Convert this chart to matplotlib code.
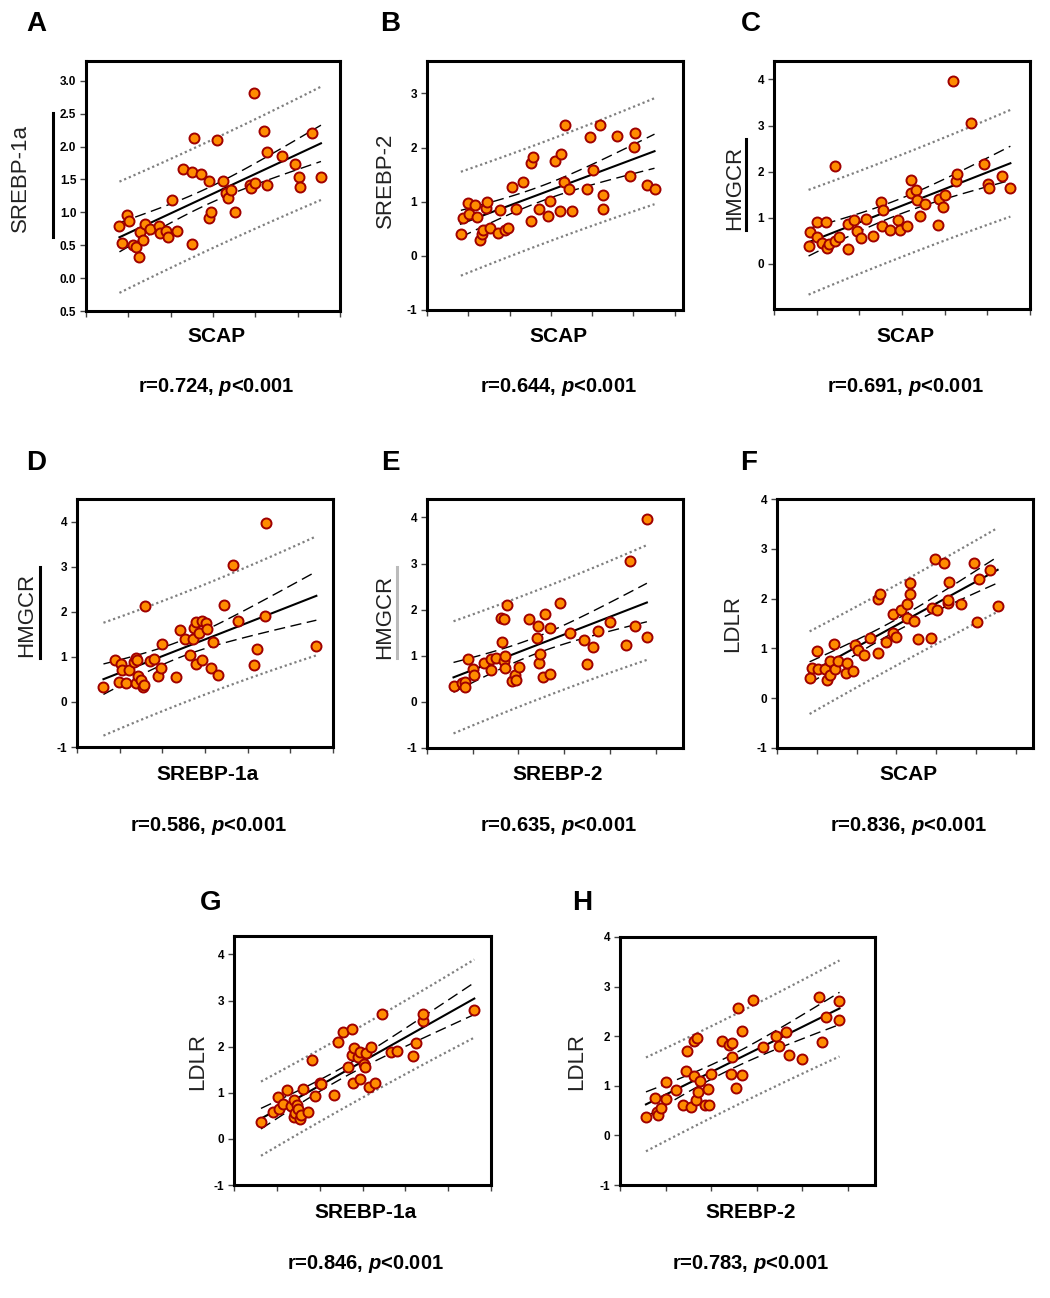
import numpy as np
import matplotlib
matplotlib.use("Agg")
import matplotlib.pyplot as plt
from matplotlib.lines import Line2D

plt.rcParams['font.family'] = ['Liberation Sans', 'DejaVu Sans']
plt.rcParams['mathtext.fontset'] = 'custom'
plt.rcParams['mathtext.rm'] = 'Liberation Sans:bold'
plt.rcParams['mathtext.it'] = 'Liberation Sans:italic:bold'
plt.rcParams['mathtext.bf'] = 'Liberation Sans:bold'

#___Data___#
panel_ids = ['A', 'B', 'C', 'D', 'E', 'F', 'G', 'H']
x_names = ['SCAP', 'SCAP', 'SCAP', 'SREBP-1a', 'SREBP-2', 'SCAP', 'SREBP-1a', 'SREBP-2']
y_names = ['SREBP-1a', 'SREBP-2', 'HMGCR', 'HMGCR', 'HMGCR', 'LDLR', 'LDLR', 'LDLR']
r_values = ['0.724', '0.644', '0.691', '0.586', '0.635', '0.836', '0.846', '0.783']
p_text = '<0.001'

A_x = [0.79, 0.84, 0.98, 1.01, 1.12, 1.18, 1.26, 1.28, 1.34, 1.40, 1.50, 1.72, 1.74, 1.88, 1.94,
       2.03, 2.16, 2.30, 2.50, 2.51, 2.56, 2.71, 2.91, 2.91, 2.96, 3.09, 3.24, 3.31, 3.35, 3.42,
       3.53, 3.87, 3.89, 4.00, 3.97, 4.20, 4.27, 4.27, 4.62, 4.93, 5.03, 5.06, 5.35, 5.55]
A_y = [0.79, 0.54, 0.96, 0.87, 0.51, 0.47, 0.32, 0.70, 0.58, 0.82, 0.74, 0.79, 0.69, 0.71, 0.62,
       1.18, 0.71, 1.66, 0.52, 1.61, 2.13, 1.59, 1.48, 0.92, 1.00, 2.10, 1.48, 1.29, 1.22, 1.34,
       1.01, 1.41, 1.37, 1.45, 2.82, 2.23, 1.91, 1.42, 1.85, 1.74, 1.54, 1.39, 2.21, 1.54]

B_x = [0.82, 0.86, 1.00, 1.02, 1.16, 1.20, 1.28, 1.33, 1.35, 1.43, 1.45, 1.53, 1.73, 1.76, 1.89,
       1.95, 2.05, 2.16, 2.32, 2.52, 2.56, 2.52, 2.71, 2.93, 2.97, 3.10, 3.24, 3.23, 3.34, 3.33,
       3.43, 3.52, 3.87, 3.94, 4.02, 4.19, 4.27, 4.26, 4.60, 4.92, 5.01, 5.04, 5.33, 5.51]
B_y = [0.41, 0.70, 0.97, 0.78, 0.94, 0.71, 0.30, 0.41, 0.47, 0.88, 0.99, 0.52, 0.43, 0.84, 0.47,
       0.51, 1.28, 0.86, 1.36, 1.72, 1.83, 0.64, 0.87, 0.74, 1.01, 1.76, 1.88, 0.82, 2.42, 1.36,
       1.24, 0.82, 1.23, 2.20, 1.58, 2.42, 1.13, 0.86, 2.22, 1.47, 2.01, 2.27, 1.30, 1.23]

C_x = [0.81, 0.85, 1.00, 1.00, 1.13, 1.21, 1.25, 1.30, 1.42, 1.44, 1.52, 1.73, 1.73, 1.88, 1.95,
       2.04, 2.16, 2.31, 2.51, 2.55, 2.52, 2.71, 2.91, 2.96, 3.11, 3.22, 3.22, 3.33, 3.34, 3.42,
       3.53, 3.85, 3.87, 3.95, 4.01, 4.19, 4.27, 4.30, 4.62, 4.93, 5.02, 5.05, 5.35, 5.54]
C_y = [0.38, 0.69, 0.91, 0.59, 0.45, 0.91, 0.35, 0.43, 2.12, 0.49, 0.58, 0.33, 0.87, 0.95, 0.71,
       0.56, 0.98, 0.60, 1.34, 1.17, 0.83, 0.74, 0.95, 0.74, 0.82, 1.81, 1.54, 1.61, 1.39, 1.03,
       1.29, 0.84, 1.41, 1.24, 1.50, 3.96, 1.79, 1.94, 3.05, 2.16, 1.73, 1.64, 1.91, 1.64]

D_x = [0.62, 0.90, 0.99, 1.02, 1.06, 1.14, 1.22, 1.34, 1.38, 1.40, 1.38, 1.44, 1.51, 1.55, 1.57,
       1.60, 1.71, 1.81, 1.89, 1.98, 2.00, 2.32, 2.41, 2.52, 2.65, 2.74, 2.73, 2.79, 2.79, 2.87,
       2.92, 2.94, 3.03, 3.05, 3.15, 3.19, 3.30, 3.45, 3.66, 3.78, 4.16, 4.23, 4.40, 4.42, 5.61]
D_y = [0.34, 0.92, 0.45, 0.83, 0.71, 0.41, 0.71, 0.88, 0.98, 0.94, 0.41, 0.58, 0.48, 0.34, 0.37,
       2.12, 0.90, 0.96, 0.58, 0.75, 1.29, 0.56, 1.60, 1.40, 1.03, 1.64, 1.40, 1.78, 0.83, 1.53,
       1.79, 0.94, 1.74, 1.62, 0.75, 1.33, 0.60, 2.15, 3.04, 1.79, 0.82, 1.18, 1.90, 3.96, 1.24]

E_x = [0.58, 0.76, 0.83, 0.84, 0.89, 1.00, 1.02, 1.24, 1.40, 1.41, 1.50, 1.61, 1.64, 1.69, 1.68,
       1.71, 1.71, 1.76, 1.85, 1.93, 1.95, 2.01, 2.23, 2.40, 2.42, 2.44, 2.47, 2.53, 2.58, 2.69,
       2.69, 2.91, 3.13, 3.43, 3.50, 3.63, 3.73, 4.01, 4.36, 4.43, 4.54, 4.81, 4.81]
E_y = [0.35, 0.40, 0.43, 0.33, 0.94, 0.72, 0.59, 0.84, 0.69, 0.92, 0.95, 1.81, 1.29, 1.79, 0.88,
       1.00, 0.74, 2.11, 0.46, 0.59, 0.48, 0.75, 1.80, 1.39, 1.65, 0.84, 1.03, 0.55, 1.91, 1.60,
       0.60, 2.15, 1.49, 1.34, 0.82, 1.18, 1.54, 1.73, 1.24, 3.05, 1.64, 3.96, 1.40]

F_x = [0.82, 0.87, 1.01, 1.04, 1.21, 1.27, 1.33, 1.34, 1.43, 1.45, 1.54, 1.73, 1.77, 1.91, 1.96,
       2.04, 2.18, 2.33, 2.53, 2.54, 2.59, 2.73, 2.92, 2.93, 2.99, 3.12, 3.26, 3.26, 3.34, 3.35,
       3.44, 3.54, 3.87, 3.89, 3.98, 4.03, 4.20, 4.29, 4.30, 4.32, 4.64, 4.95, 5.03, 5.07, 5.35, 5.55]
F_y = [0.41, 0.61, 0.94, 0.58, 0.59, 0.37, 0.47, 0.75, 1.09, 0.59, 0.74, 0.51, 0.70, 0.55, 1.06,
       0.96, 0.86, 1.21, 0.91, 2.00, 2.09, 1.12, 1.31, 1.70, 1.22, 1.78, 1.90, 1.61, 2.10, 2.31,
       1.56, 1.19, 1.21, 1.82, 2.79, 1.78, 2.71, 1.91, 1.98, 2.33, 1.89, 2.71, 1.54, 2.39, 2.57, 1.85]

G_x = [0.63, 0.92, 1.03, 1.06, 1.15, 1.23, 1.33, 1.39, 1.40, 1.42, 1.46, 1.50, 1.54, 1.57, 1.62,
       1.72, 1.83, 1.90, 2.00, 2.02, 2.33, 2.42, 2.55, 2.66, 2.75, 2.76, 2.78, 2.80, 2.90, 2.94,
       2.95, 3.03, 3.05, 3.09, 3.16, 3.21, 3.30, 3.45, 3.66, 3.80, 4.17, 4.24, 4.41, 4.42, 5.61]
G_y = [0.37, 0.59, 0.90, 0.64, 0.76, 1.05, 0.71, 0.85, 0.47, 0.56, 0.74, 0.64, 0.43, 0.51, 1.09,
       0.59, 1.71, 0.92, 1.21, 1.18, 0.95, 2.11, 2.32, 1.56, 1.81, 2.39, 1.22, 1.97, 1.78, 1.89,
       1.30, 1.63, 1.55, 1.86, 1.12, 2.00, 1.21, 2.71, 1.89, 1.91, 1.79, 2.08, 2.56, 2.71, 2.80]

H_x = [0.57, 0.77, 0.81, 0.84, 0.90, 1.00, 1.02, 1.24, 1.39, 1.45, 1.47, 1.55, 1.62, 1.70, 1.63,
       1.67, 1.71, 1.76, 1.86, 1.93, 1.95, 2.00, 2.23, 2.40, 2.45, 2.47, 2.43, 2.54, 2.59, 2.69,
       2.69, 2.91, 3.14, 3.43, 3.50, 3.64, 3.72, 4.00, 4.38, 4.44, 4.53, 4.82, 4.82]
H_y = [0.37, 0.76, 0.47, 0.42, 0.55, 1.07, 0.74, 0.92, 0.61, 1.29, 1.70, 0.58, 1.91, 1.96, 1.19,
       0.71, 0.88, 1.09, 0.61, 0.93, 0.61, 1.23, 1.91, 1.83, 1.86, 1.58, 1.23, 0.95, 2.57, 2.11,
       1.22, 2.72, 1.79, 2.00, 1.80, 2.09, 1.62, 1.55, 2.80, 1.89, 2.39, 2.71, 2.32]

xs = [A_x, B_x, C_x, D_x, E_x, F_x, G_x, H_x]
ys = [A_y, B_y, C_y, D_y, E_y, F_y, G_y, H_y]

yticks_A = [-0.5, 0.0, 0.5, 1.0, 1.5, 2.0, 2.5, 3.0]
ylabels_A = ['0.5', '0.0', '0.5', '1.0', '1.5', '2.0', '2.5', '3.0']
yticks_B = [-1, 0, 1, 2, 3]
yticks_C = [0, 1, 2, 3, 4]
yticks_DEG = [-1, 0, 1, 2, 3, 4]
yticks_FH = [-1, 0, 1, 2, 3, 4]
yticks = [yticks_A, yticks_B, yticks_C, yticks_DEG, yticks_DEG, yticks_FH, yticks_DEG, yticks_FH]
ytlabels = [ylabels_A] + [[str(v) for v in t] for t in yticks[1:]]

#___Layout (pixels: left, top, right, bottom)___#
W, H = 1050, 1298
boxes = [(86, 61, 340, 311), (427, 61, 683, 310), (774, 61, 1030, 309),
         (77, 499, 333, 747), (427, 499, 683, 748), (777, 499, 1033, 748),
         (234, 936, 491, 1185), (620, 937, 875, 1185)]
ylims = [(-0.5, 3.3), (-1, 3.6), (-0.98, 4.4), (-1, 4.5), (-1, 4.4), (-1, 4), (-1, 4.4), (-1, 4)]
xlims = [(0, 6), (0, 6.2), (0, 6), (0, 6), (0, 5.6), (0, 6.44), (0, 6), (0, 5.6)]
n_xticks = [6, 6, 6, 6, 5, 6, 6, 5]
letter_pos = [(36, 24), (390, 24), (751, 24), (36, 463), (390, 463), (749, 463), (211, 903), (582, 903)]
ylab_pos = [(20, 178), (385, 180), (735, 188), (27, 615), (385, 617), (733, 623), (198, 1062), (577, 1062)]
xlab_y = [337, 337, 337, 775, 775, 775, 1213, 1213]
cap_y = [387, 387, 387, 826, 826, 826, 1264, 1264]
# stray bars beside some y labels: (x, y0, y1, colour)
bars = [(53, 113, 237, '#000000'), (746, 139, 230, '#000000'),
        (40, 567, 658, '#000000'), (397, 567, 658, '#bbbbbb')]

fig = plt.figure(figsize=(W / 100, H / 100), dpi=100)


def fx(px):
    return px / W


def fy(py):
    return 1 - py / H


def draw_panel(i):
    l, t, r, b = boxes[i]
    ax = fig.add_axes([fx(l), fy(b), (r - l) / W, (b - t) / H])
    x = np.array(xs[i])
    y = np.array(ys[i])

    # regression with 95% confidence and prediction bands
    n = len(x)
    slope, icpt = np.polyfit(x, y, 1)
    res = y - (slope * x + icpt)
    s = np.sqrt(np.sum(res ** 2) / (n - 2))
    sxx = np.sum((x - x.mean()) ** 2)
    tval = 2.02
    xg = np.linspace(x.min(), x.max(), 100)
    yg = slope * xg + icpt
    ci = tval * s * np.sqrt(1 / n + (xg - x.mean()) ** 2 / sxx)
    pi = tval * s * np.sqrt(1 + 1 / n + (xg - x.mean()) ** 2 / sxx)
    ax.plot(xg, yg, c='k', lw=1.5, zorder=2)
    for sgn in (1, -1):
        ax.plot(xg, yg + sgn * ci, c='k', lw=1.0, ls=(0, (8, 4)), zorder=2)
        ax.plot(xg, yg + sgn * pi, c='#808080', lw=1.6, ls=(0, (1, 1.3)), zorder=2)

    ax.scatter(x, y, s=52, c='#FF8C00', edgecolors='#A00000', linewidths=1.4, zorder=3)

    ax.set_xlim(*xlims[i])
    ax.set_ylim(*ylims[i])
    ax.set_xticks(range(n_xticks[i] + 1))
    ax.set_xticklabels([])
    ax.set_yticks(yticks[i])
    ax.set_yticklabels(ytlabels[i], fontsize=8.5, fontweight='bold')
    ax.tick_params(direction='out', length=4, width=1, colors='#444444', pad=3)
    ax.tick_params(axis='y', labelcolor='k')
    for sp in ax.spines.values():
        sp.set_linewidth(2.2)

    cx = (l + r) / 2
    fig.text(fx(letter_pos[i][0]), fy(letter_pos[i][1]), panel_ids[i],
             fontsize=20, fontweight='bold', ha='center', va='center')
    fig.text(fx(ylab_pos[i][0]), fy(ylab_pos[i][1]), y_names[i],
             fontsize=16, rotation=90, ha='center', va='center', color='#222222')
    fig.text(fx(cx + 3), fy(xlab_y[i]), x_names[i],
             fontsize=15, fontweight='bold', ha='center', va='center')
    fig.text(fx(cx + 3), fy(cap_y[i]), 'r=' + r_values[i] + ', $\\mathit{p}$' + p_text,
             fontsize=14.5, fontweight='bold', ha='center', va='center')


for i in range(len(panel_ids)):
    draw_panel(i)

for bx, y0, y1, col in bars:
    fig.add_artist(Line2D([fx(bx), fx(bx)], [fy(y0), fy(y1)], color=col, lw=2.2))

fig.savefig('out.png', dpi=100)
